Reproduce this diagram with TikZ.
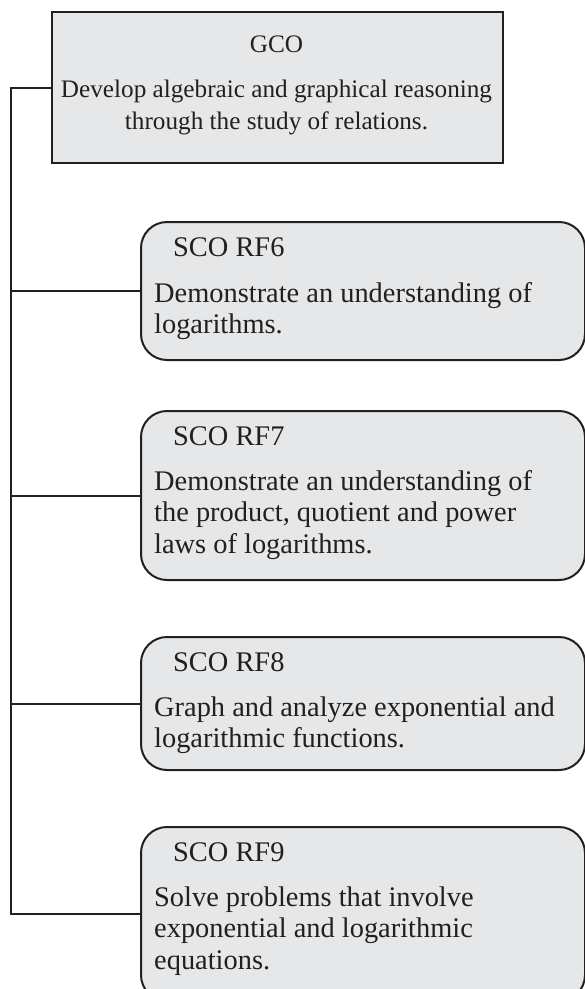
\documentclass[tikz,border=0pt]{standalone}
\usepackage{fontspec}
\setmainfont{Liberation Serif}
\definecolor{boxfill}{HTML}{E6E7E8}
\definecolor{ink}{HTML}{231F20}
\begin{document}
\begin{tikzpicture}[x=1pt,y=-1pt,
  box/.style={draw=ink, fill=boxfill, line width=2pt, inner sep=0pt, anchor=north west},
  scobox/.style={box, rounded corners=26pt},
  conn/.style={draw=ink, line width=2pt},
  txt/.style={inner sep=0pt, text=ink, font=\fontsize{28.4}{31.5}\selectfont},
  gtxt/.style={inner sep=0pt, text=ink, font=\fontsize{25.2}{32}\selectfont}]
\useasboundingbox (0,0) rectangle (585,989);
\clip (0,0) rectangle (585,989);
% boxes
\node[box, minimum width=451pt, minimum height=151pt] (gco) at (51,11) {};
\node[scobox, minimum width=444pt, minimum height=138pt] (rf6) at (140,221) {};
\node[scobox, minimum width=444pt, minimum height=169pt] (rf7) at (140,410) {};
\node[scobox, minimum width=444pt, minimum height=133pt] (rf8) at (140,636) {};
\node[scobox, minimum width=444pt, minimum height=174pt] (rf9) at (140,826) {};
% connectors
\coordinate (spine) at (11,0);
\draw[conn] (gco.west) -| (spine |- rf9.west) -- (rf9.west);
\draw[conn] (rf6.west) -- (rf6.west -| spine);
\draw[conn] (rf7.west) -- (rf7.west -| spine);
\draw[conn] (rf8.west) -- (rf8.west -| spine);
% texts
\node[gtxt, anchor=base] (gcot) at (276.5,52) {GCO};
\node[gtxt, anchor=base] (gcob) at (276.5,97) {\parbox[t]{440pt}{\centering Develop algebraic and graphical reasoning\\through the study of relations.}};
\node[txt, anchor=base west] (rf6t) at (173,256) {SCO RF6};
\node[txt, anchor=base west] (rf6b) at (154,302) {\parbox[t]{420pt}{\raggedright Demonstrate an understanding of\\logarithms.}};
\node[txt, anchor=base west] (rf7t) at (173,445) {SCO RF7};
\node[txt, anchor=base west] (rf7b) at (154,490) {\parbox[t]{420pt}{\raggedright Demonstrate an understanding of\\the product, quotient and power\\laws of logarithms.}};
\node[txt, anchor=base west] (rf8t) at (173,671) {SCO RF8};
\node[txt, anchor=base west] (rf8b) at (154,716) {\parbox[t]{420pt}{\raggedright Graph and analyze exponential and\\logarithmic functions.}};
\node[txt, anchor=base west] (rf9t) at (173,861) {SCO RF9};
\node[txt, anchor=base west] (rf9b) at (154,906) {\parbox[t]{420pt}{\raggedright Solve problems that involve\\exponential and logarithmic\\equations.}};
\end{tikzpicture}
\end{document}
